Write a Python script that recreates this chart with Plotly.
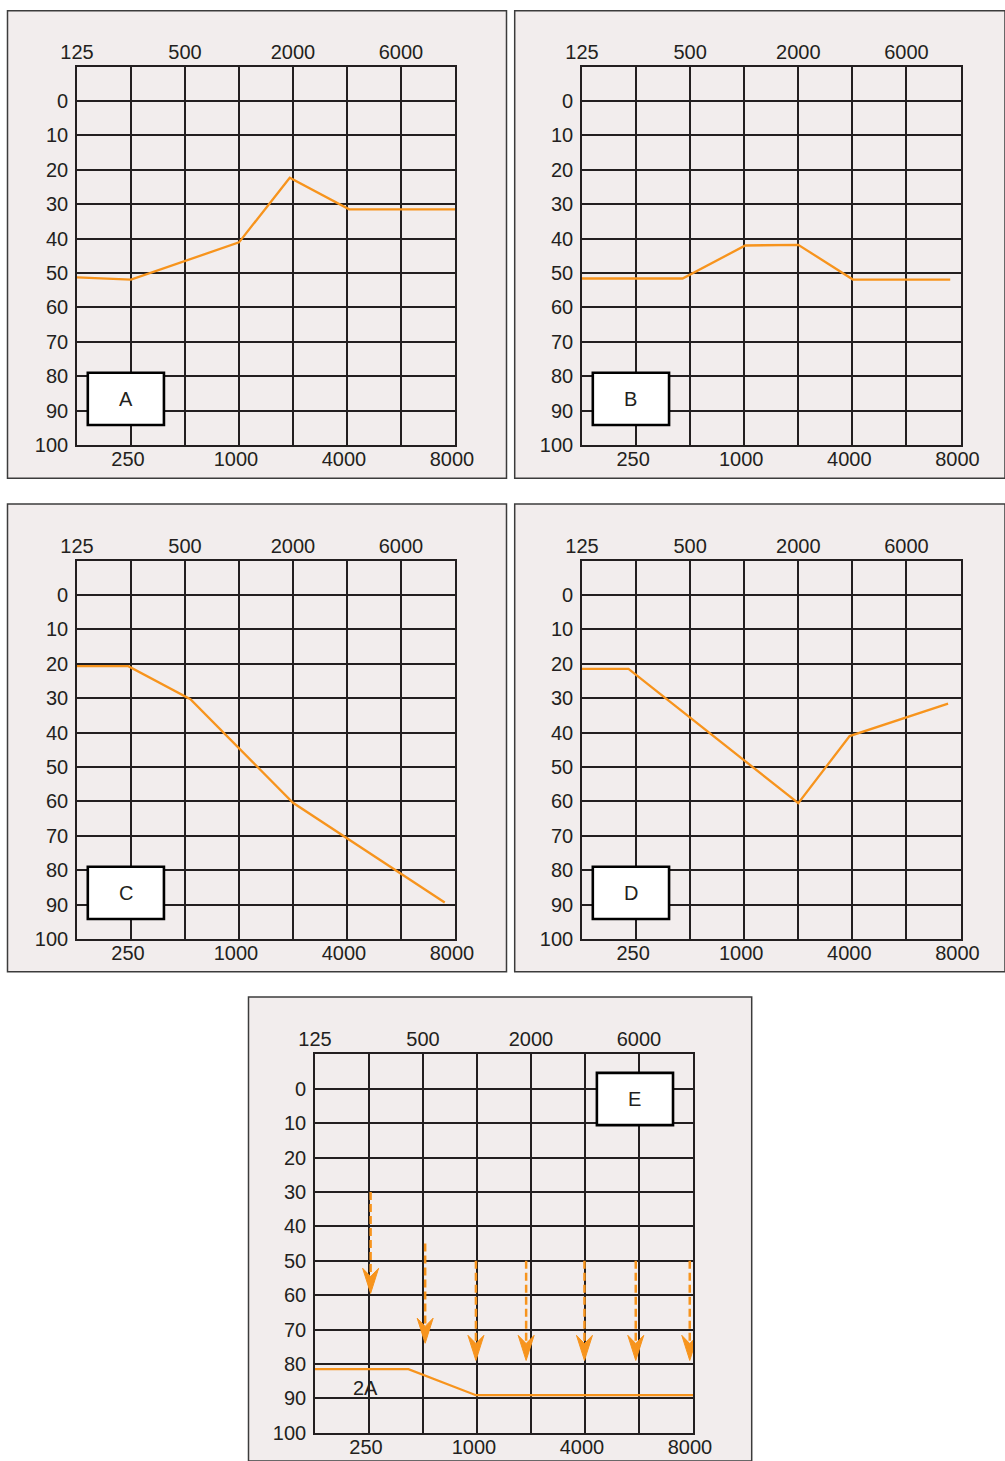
import plotly.graph_objects as go

W, H = 1005, 1461

# ---------------- data ----------------
freq_pos = [0, 1, 2, 3, 4, 5, 6, 7]
top_labels = ['125', '', '500', '', '2000', '', '6000', '']
bottom_labels = ['', '250', '', '1000', '', '4000', '', '8000']
db_ticks = [0, 10, 20, 30, 40, 50, 60, 70, 80, 90, 100]
panel_names = ['A', 'B', 'C', 'D', 'E']

a_x = [0, 1, 3, 3.94, 5.04, 7]
a_db = [51.3, 51.9, 41.1, 22.3, 31.5, 31.5]
b_x = [0, 1.86, 3.02, 4.0, 5.01, 6.81]
b_db = [51.6, 51.6, 42.0, 41.8, 51.9, 51.9]
c_x = [0, 0.95, 2.1, 4.0, 6.81]
c_db = [20.7, 20.7, 30.3, 60.4, 89.4]
d_x = [0, 0.86, 4.0, 4.95, 6.77]
d_db = [21.5, 21.5, 60.5, 41.0, 31.6]
e_x = [0, 1.73, 2.98, 7]
e_db = [81.5, 81.5, 89.1, 89.1]
e_arrow_x = [1.03, 2.04, 2.98, 3.91, 4.99, 5.94, 6.94]
e_arrow_from = [30, 45, 50, 50, 50, 50, 50]
e_arrow_to = [59.5, 74, 79, 79, 79, 79, 79]
e_note = '2A'
e_note_x, e_note_db = 0.93, 87

series_x = [a_x, b_x, c_x, d_x, e_x]
series_db = [a_db, b_db, c_db, d_db, e_db]

# ---------------- styles / geometry (pixels) ----------------
ORANGE = '#f7941d'
INK = '#231f20'
PANEL_BG = '#f2eded'
FONT = 'Liberation Sans, Arial, Helvetica, sans-serif'
FS = 20

grid_px = [  # x0, x1, ytop, ybottom
    (77, 455, 66.6, 445),
    (582, 960.5, 66.6, 445),
    (77, 455, 560.6, 939),
    (582, 960.5, 560.6, 939),
    (315, 693, 1054.3, 1432.7),
]
frame_px = [
    (7.5, 506.5, 10.7, 478.3),
    (514.7, 1005, 10.7, 478.3),
    (7.5, 506.5, 504, 971.7),
    (514.7, 1005, 504, 971.7),
    (248.5, 751.7, 997, 1461),
]
label_box = [  # x0, x1, db_top, db_bottom in data units
    (0.2, 1.61, 79, 94.2),
    (0.2, 1.61, 79, 94.2),
    (0.2, 1.61, 79, 94.2),
    (0.2, 1.61, 79, 94.2),
    (5.22, 6.63, -4.6, 10.6),
]
HEAD_HW = 0.148   # half-width of arrow head in x units
HEAD_LEN = 7.3    # length in dB
HEAD_NOTCH = 4.9  # distance tip->notch in dB

fig = go.Figure()
layout = dict(
    width=W, height=H, autosize=False,
    margin=dict(l=0, r=0, t=0, b=0, pad=0),
    paper_bgcolor='white',
    plot_bgcolor=PANEL_BG,
    showlegend=False,
    font=dict(family=FONT, size=FS, color=INK),
    shapes=[], annotations=[],
)

def px_dom_x(a, b):
    return [a / W, b / W]

def px_dom_y(top, bottom):
    return [1 - bottom / H, 1 - top / H]

for i in range(5):
    k = i + 1
    xb = 2 * i + 1
    xt = 2 * i + 2
    xb_name = 'x' if xb == 1 else f'x{xb}'
    y_name = 'y' if k == 1 else f'y{k}'
    gx0, gx1, gy0, gy1 = grid_px[i]

    layout['xaxis' if xb == 1 else f'xaxis{xb}'] = dict(
        domain=px_dom_x(gx0, gx1), anchor=y_name, range=[0, 7],
        tickvals=freq_pos, ticktext=bottom_labels, ticks='',
        showgrid=True, gridcolor=INK, gridwidth=1.6,
        showline=True, mirror=True, linecolor=INK, linewidth=1.6,
        zeroline=False, fixedrange=True, ticklabelstandoff=-5,
        ticklabelshift=-3, automargin=False,
    )
    layout[f'xaxis{xt}'] = dict(
        domain=px_dom_x(gx0, gx1), anchor=y_name, overlaying=xb_name,
        side='top', range=[0, 7], tickvals=freq_pos, ticktext=top_labels,
        ticks='', showgrid=False, showline=False, zeroline=False,
        fixedrange=True, ticklabelstandoff=3, automargin=False,
    )
    layout['yaxis' if k == 1 else f'yaxis{k}'] = dict(
        domain=px_dom_y(gy0, gy1), anchor=xb_name, range=[100, -10],
        tickvals=db_ticks, ticks='',
        showgrid=True, gridcolor=INK, gridwidth=1.6,
        showline=True, mirror=True, linecolor=INK, linewidth=1.6,
        zeroline=False, fixedrange=True, ticklabelstandoff=3,
        automargin=False,
    )

    # panel frame
    fx0, fx1, fy0, fy1 = frame_px[i]
    layout['shapes'].append(dict(
        type='rect', xref='paper', yref='paper', layer='below',
        x0=fx0 / W, x1=fx1 / W, y0=1 - fy1 / H, y1=1 - fy0 / H,
        fillcolor=PANEL_BG, line=dict(color='#3c3c3c', width=1.5),
    ))
    # letter box
    bx0, bx1, by0, by1 = label_box[i]
    layout['shapes'].append(dict(
        type='rect', xref=xb_name, yref=y_name, layer='above',
        x0=bx0, x1=bx1, y0=by0, y1=by1,
        fillcolor='white', line=dict(color='black', width=2.6),
    ))
    layout['annotations'].append(dict(
        xref=xb_name, yref=y_name, x=(bx0 + bx1) / 2, y=(by0 + by1) / 2,
        text=panel_names[i], showarrow=False,
        font=dict(size=FS, color=INK, family=FONT),
    ))

    # top axis needs a (hidden) trace to be drawn
    fig.add_trace(go.Scatter(
        x=[0, 7], y=[None, None], xaxis=f'x{xt}', yaxis=y_name,
        mode='lines', hoverinfo='skip', showlegend=False,
    ))
    # audiogram line
    fig.add_trace(go.Scatter(
        x=series_x[i], y=series_db[i], xaxis=xb_name, yaxis=y_name,
        mode='lines', line=dict(color=ORANGE, width=2.3),
        showlegend=False,
    ))

# Panel E arrows
dx, dy = [], []
hx, hy = [], []
for ax_, a0, a1 in zip(e_arrow_x, e_arrow_from, e_arrow_to):
    dx += [ax_, ax_, None]
    dy += [a0, a1 - HEAD_NOTCH, None]
    hx += [ax_, ax_ - HEAD_HW, ax_, ax_ + HEAD_HW, ax_, None]
    hy += [a1, a1 - HEAD_LEN, a1 - HEAD_NOTCH, a1 - HEAD_LEN, a1, None]

fig.add_trace(go.Scatter(
    x=dx, y=dy, xaxis='x9', yaxis='y5', mode='lines',
    line=dict(color=ORANGE, width=2.5, dash='8px,4px'), showlegend=False,
))
fig.add_trace(go.Scatter(
    x=hx, y=hy, xaxis='x9', yaxis='y5', mode='lines', fill='toself',
    fillcolor=ORANGE, line=dict(color=ORANGE, width=1), showlegend=False,
))
layout['annotations'].append(dict(
    xref='x9', yref='y5', x=e_note_x, y=e_note_db, text=e_note,
    showarrow=False, font=dict(size=FS, color=INK, family=FONT),
))

fig.update_layout(**layout)
fig.write_html('out.html')
